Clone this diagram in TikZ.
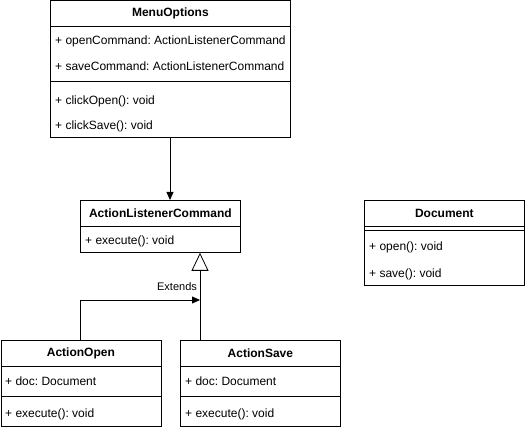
\documentclass[tikz,border=0pt]{standalone}
\usepackage{fontspec}
\setmainfont{Liberation Sans}
\usetikzlibrary{arrows.meta}

\tikzset{
  comp/.style={draw, rectangle, anchor=north west, inner sep=0pt, line width=0.8pt},
  member/.style={anchor=west, inner sep=0pt},
  uses/.style={-{Triangle[length=8pt,width=7pt]}, line width=0.8pt},
  inherits/.style={-{Triangle[open,length=18pt,width=17pt]}, line width=0.8pt},
}

\begin{document}
\frenchspacing
\begin{tikzpicture}[x=1pt, y=-1pt, font=\fontsize{12}{14}\selectfont]
\useasboundingbox (0,0) rectangle (525,430);

% MenuOptions
\node[comp, minimum width=240pt, minimum height=26pt] (menuHead) at (50,0.5) {\bfseries MenuOptions};
\node[comp, minimum width=240pt, minimum height=55pt] (menuAttr) at (50,26.5) {};
\node[comp, minimum width=240pt, minimum height=56pt] (menuOps) at (50,81.5) {};
\node[member] (openCmd) at (55,41) {+ openCommand: ActionListenerCommand};
\node[member] (saveCmd) at (55,66) {+ saveCommand: ActionListenerCommand};
\node[member] (clickOpen) at (55,101) {+ clickOpen(): void};
\node[member] (clickSave) at (55,126) {+ clickSave(): void};

% ActionListenerCommand
\node[comp, minimum width=160pt, minimum height=26pt] (alcHead) at (80,200) {\bfseries ActionListenerCommand};
\node[comp, minimum width=160pt, minimum height=26pt] (alcOps) at (80,226) {};
\node[member] (alcExec) at (85,241) {+ execute(): void};

% ActionOpen
\node[comp, minimum width=160pt, minimum height=26pt] (openHead) at (0.5,340) {\bfseries ActionOpen};
\node[comp, minimum width=160pt, minimum height=30pt] (openAttr) at (0.5,366) {};
\node[comp, minimum width=160pt, minimum height=30pt] (openOps) at (0.5,396) {};
\node[member] (openDoc) at (5,381) {+ doc: Document};
\node[member] (openExec) at (5,414) {+ execute(): void};

% ActionSave
\node[comp, minimum width=160pt, minimum height=26pt] (saveHead) at (180,340) {\bfseries ActionSave};
\node[comp, minimum width=160pt, minimum height=30pt] (saveAttr) at (180,366) {};
\node[comp, minimum width=160pt, minimum height=30pt] (saveOps) at (180,396) {};
\node[member] (saveDoc) at (185,381) {+ doc: Document};
\node[member] (saveExec) at (185,414) {+ execute(): void};

% Document
\node[comp, minimum width=160pt, minimum height=26pt] (docHead) at (364,200) {\bfseries Document};
\node[comp, minimum width=160pt, minimum height=4pt] (docAttr) at (364,226) {};
\node[comp, minimum width=160pt, minimum height=55pt] (docOps) at (364,230) {};
\node[member] (docOpen) at (369,247) {+ open(): void};
\node[member] (docSave) at (369,274) {+ save(): void};

% connectors
\coordinate (menuOut) at (170,137.5);
\coordinate (saveUp) at (200,340);
\coordinate (openUp) at (80,340);
\draw[uses] (menuOut) -- (menuOut |- alcHead.north);
\draw[inherits] (saveUp) -- (saveUp |- alcOps.south);
\draw[uses] (openUp) -- (80,300) -- (200,300);
\node[font=\fontsize{11}{13}\selectfont] (extends) at (177,287) {Extends};
\end{tikzpicture}
\end{document}
